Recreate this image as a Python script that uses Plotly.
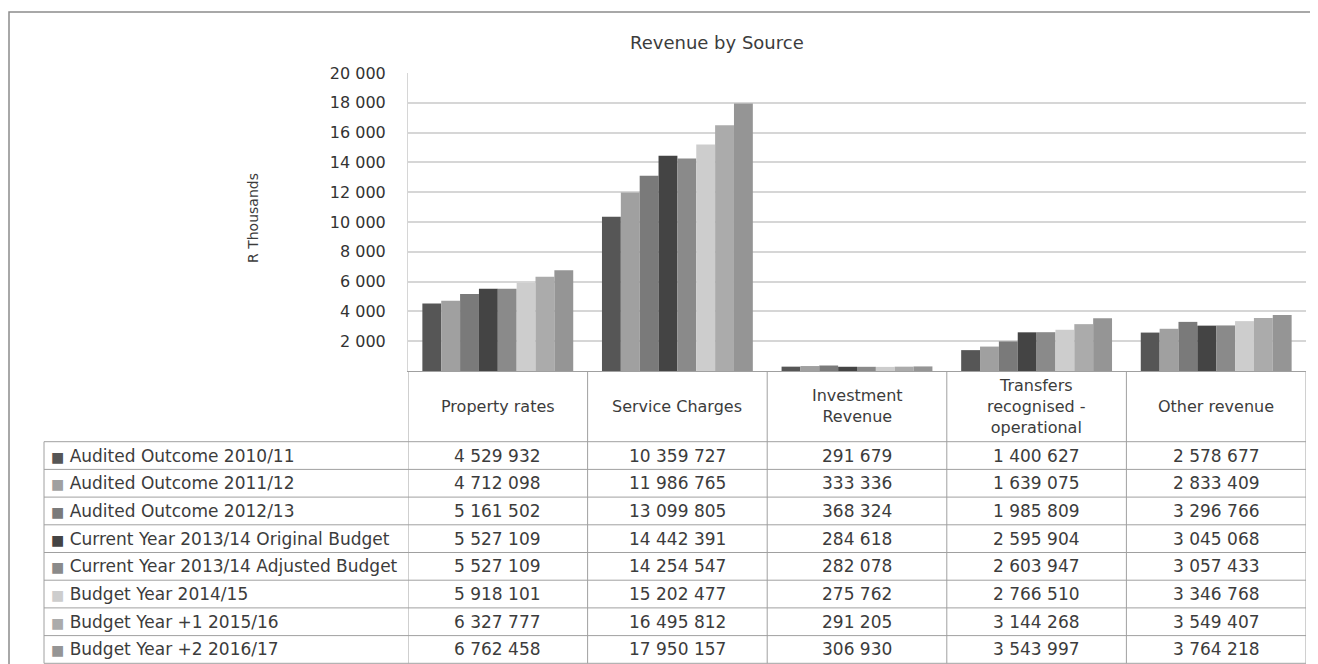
import plotly.graph_objects as go

# revenue by source, R thousands (as printed in the data table)
categories = ['Property rates', 'Service Charges', 'Investment Revenue',
              'Transfers recognised - operational', 'Other revenue']
header_labels = ['Property rates', 'Service Charges', 'Investment<br>Revenue',
                 'Transfers<br>recognised -<br>operational', 'Other revenue']

series_names = [
    'Audited Outcome 2010/11',
    'Audited Outcome 2011/12',
    'Audited Outcome 2012/13',
    'Current Year 2013/14 Original Budget',
    'Current Year 2013/14 Adjusted Budget',
    'Budget Year 2014/15',
    'Budget Year +1 2015/16',
    'Budget Year +2 2016/17',
]

audited_2010 = [4529932, 10359727, 291679, 1400627, 2578677]
audited_2011 = [4712098, 11986765, 333336, 1639075, 2833409]
audited_2012 = [5161502, 13099805, 368324, 1985809, 3296766]
original_2013 = [5527109, 14442391, 284618, 2595904, 3045068]
adjusted_2013 = [5527109, 14254547, 282078, 2603947, 3057433]
budget_2014 = [5918101, 15202477, 275762, 2766510, 3346768]
budget_2015 = [6327777, 16495812, 291205, 3144268, 3549407]
budget_2016 = [6762458, 17950157, 306930, 3543997, 3764218]

series_values = [audited_2010, audited_2011, audited_2012, original_2013,
                 adjusted_2013, budget_2014, budget_2015, budget_2016]

y_ticks = [2000, 4000, 6000, 8000, 10000, 12000, 14000, 16000, 18000, 20000]

colors = ['#565656', '#a0a0a0', '#7a7a7a', '#444444',
          '#8a8a8a', '#cdcdcd', '#ababab', '#959595']

# page body adds an 8px margin, so the figure is drawn 8px smaller
OFF = 8
W, H = 1318 - OFF, 664 - OFF
L, R, T, B = 408, 1306, 73, 371  # plot area in screen pixels


def px(x):
    return (x - L) / (R - L)


def py(y):
    return (B - y) / (B - T)


def fmt(v):
    return f'{v:,}'.replace(',', ' ')


fig = go.Figure()
for name, vals, col in zip(series_names, series_values, colors):
    fig.add_trace(go.Bar(
        x=categories,
        y=[v / 1000 for v in vals],
        name=name,
        marker=dict(color=col, line=dict(width=0)),
    ))

text_color = '#3c3c3c'
grid_color = '#d6d6d6'
line_color = '#a0a0a0'
FONT = 'DejaVu Sans'

annotations = []
shapes = []


def note(text, x, y, xref='paper', size=16, **kw):
    d = dict(text=text, xref=xref, yref='paper', x=x, y=y, showarrow=False,
             xanchor='center', yanchor='middle',
             font=dict(family=FONT, size=size, color=text_color))
    d.update(kw)
    annotations.append(d)


# title + axis title
note('Revenue by Source', px(717), py(42), size=18)
note('R Thousands', px(253), py(218), size=14, textangle=-90)

# table geometry
header_bottom = 441.7
row_h = 27.7
table_left = 44

# header labels
for cat, lab in zip(categories, header_labels):
    note(lab, cat, py((B + header_bottom) / 2), xref='x', size=16)

# rows
for i, (name, vals, col) in enumerate(zip(series_names, series_values, colors)):
    yc = header_bottom + row_h * (i + 0.5)
    note(f"<span style='color:{col};font-size:14px'>■</span> {name}",
         px(table_left + 5), py(yc), size=17, xanchor='left')
    for cat, v in zip(categories, vals):
        note(fmt(v), cat, py(yc), xref='x', size=17)

# horizontal table lines
n_rows = len(series_names)
for i in range(n_rows + 1):
    yl = header_bottom + row_h * i
    shapes.append(dict(type='line', xref='paper', yref='paper',
                       x0=px(table_left), x1=1, y0=py(yl), y1=py(yl),
                       line=dict(color=line_color, width=1)))
# vertical table lines (category boundaries)
for k in range(len(categories) + 1):
    shapes.append(dict(type='line', xref='x', yref='paper',
                       x0=k - 0.5, x1=k - 0.5, y0=0,
                       y1=py(header_bottom + row_h * n_rows),
                       line=dict(color=line_color, width=1)))
shapes.append(dict(type='line', xref='paper', yref='paper',
                   x0=px(table_left), x1=px(table_left), y0=py(header_bottom),
                   y1=py(header_bottom + row_h * n_rows),
                   line=dict(color=line_color, width=1)))

# outer frame
shapes.append(dict(type='rect', xref='paper', yref='paper',
                   x0=px(9), x1=px(1340), y0=py(700), y1=py(12),
                   line=dict(color='#8c8c8c', width=1.5)))

fig.update_layout(
    width=W, height=H,
    margin=dict(l=L - OFF, r=1318 - R, t=T - OFF, b=664 - B),
    paper_bgcolor='white', plot_bgcolor='white',
    font=dict(family=FONT, size=16, color=text_color),
    separators='. ',
    barmode='group', bargap=0.16, bargroupgap=0,
    showlegend=False,
    xaxis=dict(showticklabels=False, showgrid=False, ticks='',
               showline=True, linecolor=line_color, linewidth=1,
               range=[-0.5, 4.5]),
    yaxis=dict(range=[0, 20000], tickvals=y_ticks, tickformat=',d',
               showgrid=True, gridcolor=grid_color, gridwidth=1.5,
               showline=True, linecolor=grid_color, linewidth=1,
               ticks='', ticklabelstandoff=18, zeroline=False,
               tickfont=dict(family=FONT, size=16, color='#333333')),
    annotations=annotations,
    shapes=shapes,
)

fig.write_html('out.html')
